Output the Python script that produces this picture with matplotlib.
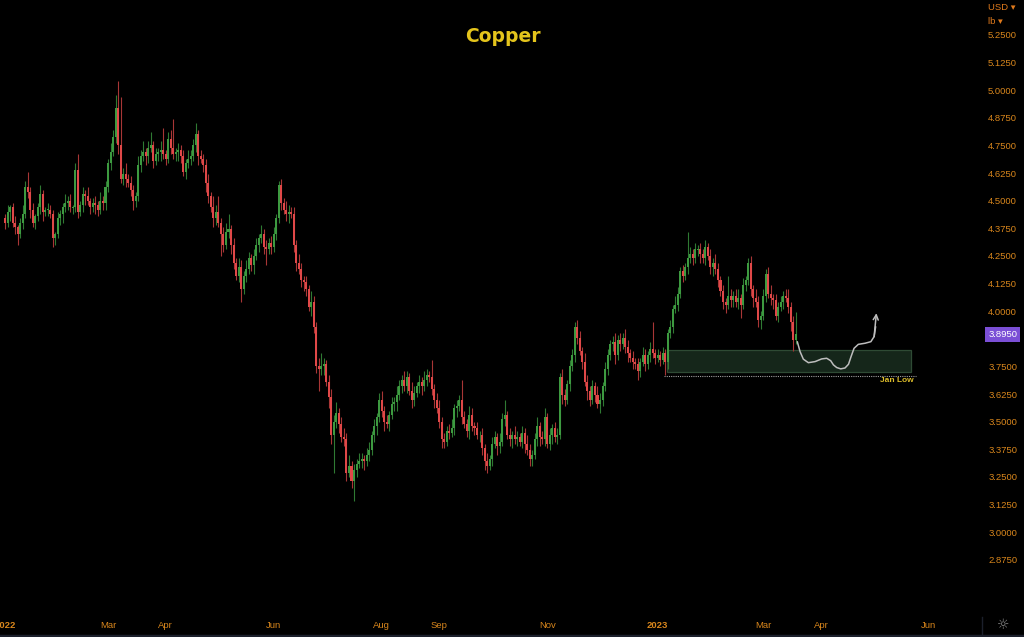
import matplotlib
matplotlib.use('Agg')
import matplotlib.pyplot as plt
import matplotlib.transforms as mtransforms
from matplotlib.patches import Rectangle
from matplotlib.lines import Line2D
import numpy as np
import pandas as pd

# daily closes, one per business day from 2022-01-03
closes = [
    4.40, 4.45, 4.47, 4.40, 4.38, 4.35, 4.40, 4.44, 4.56, 4.54,
    4.46, 4.40, 4.43, 4.47, 4.53, 4.45, 4.46, 4.46, 4.44, 4.33,
    4.35, 4.42, 4.44, 4.47, 4.49, 4.50, 4.47, 4.47, 4.64, 4.45,
    4.48, 4.53, 4.52, 4.50, 4.47, 4.49, 4.48, 4.46, 4.50, 4.49,
    4.56, 4.67, 4.72, 4.79, 4.92, 4.75, 4.60, 4.62, 4.60, 4.58,
    4.55, 4.50, 4.52, 4.66, 4.70, 4.72, 4.70, 4.74, 4.75, 4.68,
    4.71, 4.72, 4.73, 4.71, 4.69, 4.78, 4.74, 4.71, 4.72, 4.73,
    4.70, 4.63, 4.67, 4.69, 4.70, 4.75, 4.80, 4.70, 4.69, 4.66,
    4.58, 4.52, 4.47, 4.42, 4.45, 4.40, 4.35, 4.30, 4.36, 4.37,
    4.30, 4.22, 4.16, 4.20, 4.10, 4.16, 4.19, 4.24, 4.21, 4.25,
    4.30, 4.33, 4.35, 4.29, 4.28, 4.31, 4.29, 4.35, 4.42, 4.57,
    4.49, 4.46, 4.44, 4.45, 4.44, 4.30, 4.22, 4.19, 4.14, 4.13,
    4.10, 4.02, 4.04, 3.93, 3.75, 3.74, 3.75, 3.76, 3.68, 3.61,
    3.44, 3.50, 3.54, 3.49, 3.43, 3.42, 3.27, 3.30, 3.23, 3.28,
    3.31, 3.32, 3.33, 3.32, 3.35, 3.37, 3.44, 3.48, 3.52, 3.60,
    3.55, 3.50, 3.49, 3.53, 3.58, 3.59, 3.62, 3.66, 3.69, 3.66,
    3.70, 3.64, 3.60, 3.63, 3.66, 3.68, 3.66, 3.69, 3.71, 3.70,
    3.65, 3.60, 3.56, 3.50, 3.42, 3.41, 3.46, 3.45, 3.47, 3.56,
    3.57, 3.60, 3.52, 3.49, 3.46, 3.53, 3.48, 3.47, 3.44, 3.44,
    3.38, 3.32, 3.30, 3.33, 3.40, 3.43, 3.39, 3.41, 3.51, 3.53,
    3.44, 3.42, 3.44, 3.42, 3.43, 3.41, 3.45, 3.40, 3.37, 3.33,
    3.35, 3.42, 3.48, 3.43, 3.42, 3.52, 3.40, 3.44, 3.47, 3.43,
    3.44, 3.70, 3.62, 3.60, 3.67, 3.75, 3.80, 3.93, 3.88, 3.82,
    3.77, 3.68, 3.64, 3.60, 3.66, 3.62, 3.58, 3.60, 3.66, 3.74,
    3.80, 3.85, 3.86, 3.80, 3.87, 3.85, 3.88, 3.84, 3.81, 3.79,
    3.77, 3.76, 3.73, 3.77, 3.80, 3.76, 3.80, 3.83, 3.81, 3.79,
    3.80, 3.78, 3.81, 3.77, 3.90, 3.93, 4.01, 4.03, 4.08, 4.18,
    4.16, 4.20, 4.24, 4.26, 4.24, 4.28, 4.28, 4.26, 4.24, 4.29,
    4.25, 4.20, 4.22, 4.19, 4.14, 4.09, 4.04, 4.03, 4.07, 4.05,
    4.07, 4.04, 4.06, 4.03, 4.12, 4.14, 4.22, 4.10, 4.06, 4.04,
    3.96, 3.98, 4.07, 4.17, 4.08, 4.06, 4.05, 3.98, 4.02, 4.04,
    4.07, 4.06, 4.02, 3.95, 3.87, 3.895,
]
first_open = 4.42

# wick lengths beyond the body, in cents
hi_wick = [
    2, 3, 1, 2, 3, 1, 2, 4, 3, 7,
    2, 3, 1, 2, 4, 2, 1, 3, 2, 2,
    1, 3, 2, 2, 4, 2, 3, 1, 3, 7,
    2, 3, 2, 4, 1, 2, 3, 2, 4, 2,
    3, 2, 4, 3, 6, 12, 22, 3, 5, 2,
    3, 2, 2, 4, 3, 5, 2, 3, 6, 2,
    3, 2, 4, 10, 2, 3, 4, 13, 2, 3,
    2, 3, 2, 4, 3, 3, 5, 2, 3, 2,
    3, 4, 2, 5, 3, 7, 2, 3, 4, 7,
    2, 3, 2, 4, 3, 2, 4, 3, 2, 3,
    3, 2, 4, 2, 3, 2, 3, 3, 2, 2,
    3, 2, 4, 3, 2, 3, 2, 4, 3, 2,
    3, 2, 5, 3, 2, 4, 6, 3, 2, 3,
    4, 3, 5, 2, 3, 4, 3, 5, 2, 3,
    2, 4, 3, 2, 3, 4, 2, 3, 2, 3,
    4, 2, 3, 2, 3, 2, 4, 3, 2, 4,
    3, 2, 4, 3, 2, 3, 2, 4, 3, 2,
    8, 2, 3, 4, 2, 3, 2, 3, 4, 2,
    3, 2, 9, 3, 2, 4, 3, 2, 3, 2,
    3, 2, 4, 2, 3, 3, 2, 4, 3, 7,
    2, 3, 2, 4, 3, 2, 3, 2, 4, 3,
    2, 3, 4, 2, 3, 4, 2, 3, 2, 3,
    3, 2, 4, 3, 2, 3, 3, 2, 3, 3,
    2, 4, 3, 2, 3, 2, 4, 3, 2, 3,
    3, 2, 3, 4, 2, 3, 2, 4, 3, 2,
    3, 2, 3, 2, 4, 3, 2, 3, 12, 2,
    3, 2, 3, 2, 2, 3, 2, 4, 3, 2,
    3, 2, 12, 3, 2, 3, 2, 3, 2, 3,
    2, 3, 2, 4, 3, 2, 3, 2, 9, 3,
    2, 3, 4, 2, 3, 2, 2, 3, 2, 4,
    3, 2, 3, 2, 3, 4, 2, 3, 2, 3,
    2, 3, 4, 2, 3, 10,
]
lo_wick = [
    3, 2, 4, 2, 3, 5, 2, 3, 2, 3,
    4, 2, 3, 2, 3, 4, 2, 3, 2, 4,
    3, 2, 3, 4, 2, 3, 2, 3, 2, 3,
    2, 3, 4, 2, 3, 2, 4, 3, 2, 3,
    3, 2, 3, 2, 3, 4, 2, 3, 4, 2,
    3, 4, 3, 2, 3, 2, 4, 3, 2, 3,
    2, 3, 4, 2, 3, 2, 3, 2, 3, 4,
    3, 2, 3, 2, 3, 2, 3, 4, 2, 3,
    4, 3, 2, 4, 3, 2, 10, 3, 2, 3,
    4, 3, 2, 3, 6, 2, 3, 2, 3, 4,
    2, 3, 2, 3, 7, 2, 3, 2, 3, 2,
    3, 2, 3, 4, 2, 3, 4, 2, 3, 4,
    3, 2, 4, 3, 3, 10, 3, 4, 2, 5,
    4, 17, 3, 4, 2, 3, 4, 2, 3, 9,
    3, 2, 3, 4, 2, 3, 2, 3, 4, 2,
    3, 4, 2, 3, 2, 3, 4, 2, 3, 2,
    3, 2, 4, 3, 2, 3, 4, 2, 3, 2,
    3, 4, 2, 3, 4, 3, 2, 3, 2, 3,
    4, 2, 3, 2, 3, 4, 2, 3, 2, 3,
    3, 4, 3, 2, 3, 2, 4, 3, 2, 3,
    2, 3, 4, 2, 3, 2, 3, 4, 2, 3,
    3, 2, 3, 4, 2, 3, 2, 3, 4, 2,
    3, 2, 4, 3, 2, 3, 2, 3, 3, 2,
    3, 2, 4, 3, 2, 3, 2, 4, 3, 2,
    3, 2, 3, 4, 2, 3, 2, 3, 4, 2,
    3, 2, 4, 3, 2, 3, 2, 3, 2, 3,
    2, 3, 2, 6, 3, 2, 3, 2, 3, 2,
    3, 2, 3, 2, 3, 2, 3, 4, 2, 3,
    2, 3, 4, 2, 3, 2, 3, 4, 2, 3,
    3, 2, 3, 6, 2, 3, 2, 3, 4, 2,
    3, 4, 2, 3, 2, 3, 4, 2, 3, 2,
    3, 2, 3, 4, 5, 2,
]

# support zone (bar index span, price span) and Jan low line
zone_x = (263.5, 361.0)
zone_y = (3.725, 3.825)
jan_low = 3.707
jan_low_x = (262.6, 363.0)

# hand drawn projection (bar index, price)
sketch_x = [315.6, 316.7, 318.0, 320.0, 322.7, 325.3, 327.3, 328.9, 330.0, 331.3,
            332.9, 334.6, 336.0, 337.0, 338.2, 339.9, 342.6, 344.9, 346.2, 346.8, 347.1]
sketch_y = [3.862, 3.817, 3.783, 3.767, 3.772, 3.784, 3.787, 3.776, 3.757, 3.745,
            3.739, 3.743, 3.760, 3.794, 3.832, 3.850, 3.855, 3.862, 3.885, 3.930, 3.991]

month_ticks = ['2022-01-03', '2022-03-01', '2022-04-01', '2022-06-01', '2022-08-01', '2022-09-01',
               '2022-11-01', '2023-01-02', '2023-03-01', '2023-04-03', '2023-06-01']
month_labels = ['2022', 'Mar', 'Apr', 'Jun', 'Aug', 'Sep', 'Nov', '2023', 'Mar', 'Apr', 'Jun']

last_price = 3.895

up_col = '#3d9a40'
dn_col = '#e04848'
lab_col = '#d8861c'

c = np.array(closes)
o = np.r_[first_open, c[:-1]]
x = np.arange(len(c))
h = np.maximum(o, c) + np.array(hi_wick) / 100
l = np.minimum(o, c) - np.array(lo_wick) / 100
up = c >= o
cols = np.where(up, up_col, dn_col)
wick_cols = np.where(up, '#2f7a33', '#a83636')
ht = c - o
small = np.abs(ht) < 0.004
bot = np.where(small, (o + c) / 2 - 0.002, o)
ht = np.where(small, 0.004, ht)

fig = plt.figure(figsize=(10.24, 6.37), dpi=100, facecolor='black')
ax = fig.add_axes([0, 27 / 637, 968 / 1024, 610 / 637])
ax.set_facecolor('black')

ax.vlines(x, l, h, colors=wick_cols, lw=0.8, zorder=2)
ax.bar(x, ht, bottom=bot, width=0.8, color=cols, linewidth=0, zorder=3)

# zone + jan low
ax.add_patch(Rectangle((zone_x[0], zone_y[0]), zone_x[1] - zone_x[0], zone_y[1] - zone_y[0],
                       facecolor='#15261a', edgecolor='#2e4a34', lw=0.9, zorder=1))
ax.plot(jan_low_x, [jan_low, jan_low], color='#a0a0a0', lw=0.8, ls=(0, (1, 1)), zorder=1)
ax.text(jan_low_x[1] - 1, jan_low - 0.022, 'Jan Low', color='#dcbc2a', fontsize=6,
        fontweight='bold', ha='right', va='center', family='Liberation Sans')

# projection sketch
ax.plot(sketch_x[:-1], sketch_y[:-1], color='#bdbdbd', lw=1.1, solid_capstyle='round', zorder=4)
ax.annotate('', xy=(sketch_x[-1], sketch_y[-1]), xytext=(sketch_x[-3], sketch_y[-3]),
            arrowprops=dict(arrowstyle='->', color='#bdbdbd', lw=1.1, shrinkA=0, shrinkB=0,
                            mutation_scale=9), zorder=4)

ax.set_xlim(-2.03, 383.6)
ax.set_ylim(2.648, 5.408)

days = pd.bdate_range('2022-01-03', '2023-08-31')
tick_pos = np.searchsorted(days, pd.to_datetime(month_ticks))
ax.set_xticks(tick_pos)
ax.set_xticklabels(month_labels)
yt = np.arange(2.875, 5.2501, 0.125)
ax.yaxis.tick_right()
ax.set_yticks(yt)
ax.set_yticklabels([f'{v:.4f}' for v in yt])
ax.tick_params(axis='y', length=0, pad=14.5, labelsize=6.8, labelcolor=lab_col)
ax.tick_params(axis='x', length=0, pad=8, labelsize=6.8, labelcolor=lab_col)
for t in ax.get_xticklabels() + ax.get_yticklabels():
    t.set_family('Liberation Sans')
for t in ax.get_xticklabels():
    if t.get_text().isdigit():
        t.set_fontweight('bold')
for s in ax.spines.values():
    s.set_visible(False)

# last price tag
trans = mtransforms.blended_transform_factory(ax.transAxes, ax.transData)
ax.text(1.021, last_price, f'{last_price:.4f}', transform=trans, color='white', fontsize=6.8,
        family='Liberation Sans', va='center', ha='left', zorder=10, clip_on=False,
        bbox=dict(boxstyle='square,pad=0.3', fc='#7b4fd6', ec='none'))

fig.text(0.491, 1 - 37 / 637, 'Copper', color='#e4c41c', fontsize=13.5, fontweight='bold',
         ha='center', va='center')
fig.text(988 / 1024, 1 - 8 / 637, 'USD ▾', color='#e07a1c', fontsize=6.8, va='center',
         family=['Liberation Sans', 'DejaVu Sans'])
fig.text(988 / 1024, 1 - 22 / 637, 'lb ▾', color='#e07a1c', fontsize=6.8, va='center',
         family=['Liberation Sans', 'DejaVu Sans'])
fig.text(1003 / 1024, 1 - 625 / 637, '☼', color='#8a8a8a', fontsize=10, ha='center', va='center')
fig.add_artist(Line2D([0, 1], [1.5 / 637, 1.5 / 637], color='#1b1f2b', lw=2.5, transform=fig.transFigure))
fig.add_artist(Line2D([982 / 1024, 982 / 1024], [2 / 637, 20 / 637], color='#1b1f2b', lw=1,
                      transform=fig.transFigure))

fig.savefig('out.png', dpi=100, facecolor='black')
